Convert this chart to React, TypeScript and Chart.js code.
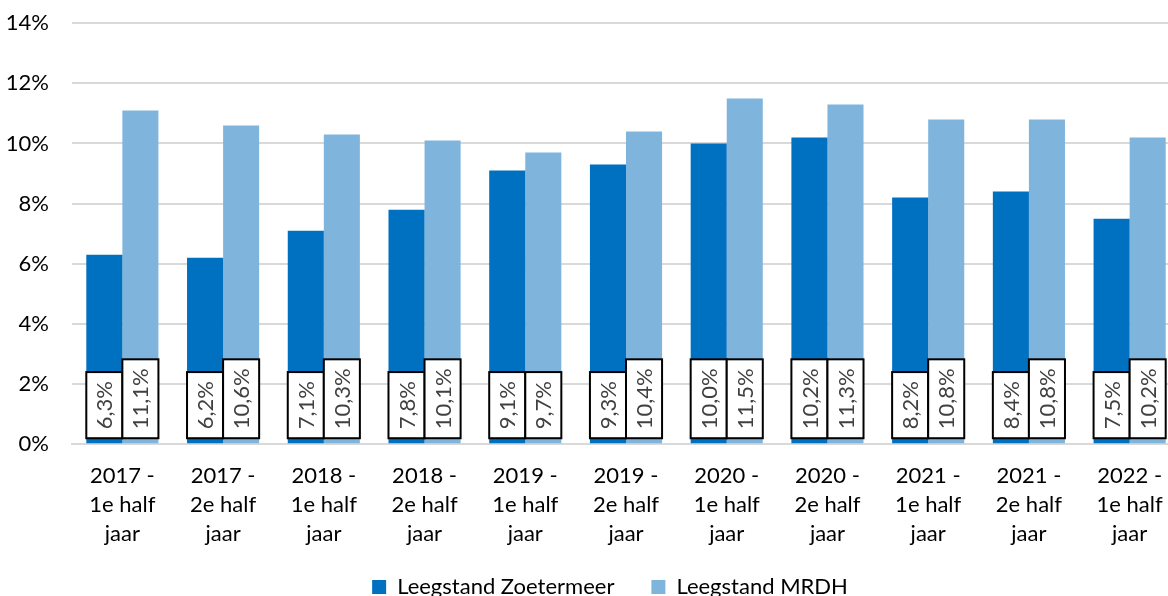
import React, { useEffect, useRef } from "react";
import { Chart, registerables } from "chart.js";

Chart.register(...registerables);

const categories: string[][] = [
  ["2017 -", "1e half", "jaar"],
  ["2017 -", "2e half", "jaar"],
  ["2018 -", "1e half", "jaar"],
  ["2018 -", "2e half", "jaar"],
  ["2019 -", "1e half", "jaar"],
  ["2019 -", "2e half", "jaar"],
  ["2020 -", "1e half", "jaar"],
  ["2020 -", "2e half", "jaar"],
  ["2021 -", "1e half", "jaar"],
  ["2021 -", "2e half", "jaar"],
  ["2022 -", "1e half", "jaar"],
];
const zoetermeer = [6.3, 6.2, 7.1, 7.8, 9.1, 9.3, 10.0, 10.2, 8.2, 8.4, 7.5];
const mrdh = [11.1, 10.6, 10.3, 10.1, 9.7, 10.4, 11.5, 11.3, 10.8, 10.8, 10.2];
const seriesNames = ["Leegstand Zoetermeer", "Leegstand MRDH"];

const FONT = "Lato, 'Noto Sans', sans-serif";
const FS = 22;

const valueBoxes = {
  id: "valueBoxes",
  afterDatasetsDraw(chart: any) {
    const ctx = chart.ctx;
    const bottom = chart.chartArea.bottom;
    ctx.save();
    chart.data.datasets.forEach((ds: any, di: number) => {
      const meta = chart.getDatasetMeta(di);
      meta.data.forEach((bar: any, i: number) => {
        const v = ds.data[i] as number;
        const text = v.toFixed(1).replace(".", ",") + "%";
        ctx.font = `${FS}px ${FONT}`;
        const tw = ctx.measureText(text).width;
        const { x, width } = bar.getProps(["x", "width"], true);
        const w = width;
        const h = tw + 18;
        const y1 = bottom - 6;
        const y0 = y1 - h;
        ctx.fillStyle = "#ffffff";
        ctx.fillRect(x - w / 2, y0, w, h);
        ctx.strokeStyle = "#000000";
        ctx.lineWidth = 2;
        ctx.strokeRect(x - w / 2, y0, w, h);
        ctx.save();
        ctx.translate(x + 1, (y0 + y1) / 2);
        ctx.rotate(-Math.PI / 2);
        ctx.textAlign = "center";
        ctx.textBaseline = "middle";
        ctx.fillStyle = "#404040";
        ctx.fillText(text, 0, 0);
        ctx.restore();
      });
    });
    ctx.restore();
  },
};

const legendShift = {
  id: "legendShift",
  afterLayout(chart: any) {
    if (chart.legend) {
      chart.legend.left += 20;
      chart.legend.right += 20;
      chart.legend.top -= 19;
      chart.legend.bottom -= 19;
    }
  },
};

export default function App() {
  const ref = useRef<HTMLCanvasElement>(null);
  useEffect(() => {
    if (!ref.current) return;
    const chart = new Chart(ref.current, {
      type: "bar",
      data: {
        labels: categories,
        datasets: [
          {
            label: seriesNames[0],
            data: zoetermeer,
            backgroundColor: "#0070C0",
            categoryPercentage: 0.716,
            barPercentage: 1,
          },
          {
            label: seriesNames[1],
            data: mrdh,
            backgroundColor: "#7FB5DD",
            categoryPercentage: 0.716,
            barPercentage: 1,
          },
        ],
      },
      options: {
        responsive: false,
        animation: false,
        layout: { padding: { top: 0, right: 0, left: 0, bottom: 0 } },
        plugins: {
          tooltip: { enabled: false },
          legend: {
            position: "bottom",
            labels: {
              font: { family: FONT, size: FS },
              color: "#000",
              boxWidth: 14,
              boxHeight: 14,
              padding: 37,
            },
          },
        },
        scales: {
          x: {
            grid: { display: false },
            border: { display: true, color: "#D9D9D9", width: 2 },
            ticks: {
              font: { family: FONT, size: FS, lineHeight: 1.33 },
              color: "#000",
              padding: 9,
              maxRotation: 0,
              autoSkip: false,
            },
          },
          y: {
            min: 0,
            max: 14,
            border: { display: false },
            grid: { color: "#D9D9D9", lineWidth: 2, drawTicks: false },
            ticks: {
              stepSize: 2,
              padding: 23,
              font: { family: FONT, size: FS },
              color: "#000",
              callback: (v: any) => v + "%",
            },
            afterFit: (s: any) => {
              s.width = 72;
            },
          },
        },
      },
      plugins: [valueBoxes, legendShift],
    });
    return () => chart.destroy();
  }, []);
  return (
    <div
      style={{
        position: "fixed",
        left: 0,
        top: 0,
        width: 1168,
        height: 596,
        overflow: "hidden",
        background: "#fff",
      }}
    >
      <canvas
        ref={ref}
        width={1180}
        height={640}
        style={{ display: "block", marginTop: -13 }}
      />
    </div>
  );
}
